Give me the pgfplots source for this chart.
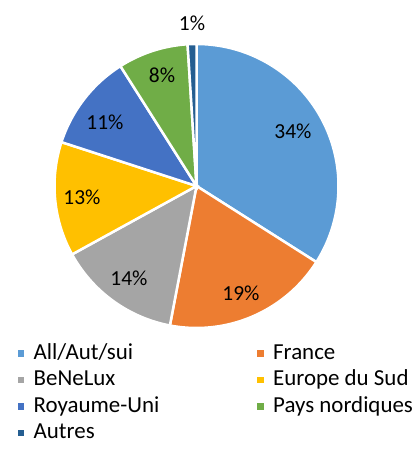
\documentclass[border=0pt]{standalone}
\usepackage{pgfplots}
\pgfplotsset{compat=1.18}
\usepackage{fontspec}
\setmainfont{Carlito}
\definecolor{c1}{HTML}{5B9BD5}
\definecolor{c2}{HTML}{ED7D31}
\definecolor{c3}{HTML}{A5A5A5}
\definecolor{c4}{HTML}{FFC000}
\definecolor{c5}{HTML}{4472C4}
\definecolor{c6}{HTML}{70AD47}
\definecolor{c7}{HTML}{255E91}
% slice: color, cumulative share before, share, legend text
\newcommand{\slice}[4]{%
  \addplot[fill=#1, draw=white, line width=2.5bp, domain={90-3.6*(#2+#3)}:{90-3.6*#2}, samples=80, variable=\t]
    ({196.5+142*cos(\t)},{263+142*sin(\t)}) -- (axis cs:196.5,263) -- cycle;
  \addlegendentry{#4}
}
\newcommand{\lc}[1]{\makebox[214bp][l]{#1}}
\begin{document}
\begin{tikzpicture}
\begin{axis}[
  name=pie,
  scale only axis, width=418bp, height=449bp,
  xmin=0, xmax=418, ymin=0, ymax=449,
  hide axis, clip=false,
  font=\fontsize{21.5}{26}\selectfont,
  legend columns=2,
  legend cell align=left,
  legend image code/.code={\fill[#1] (0bp,-4.5bp) rectangle (9bp,4.5bp);},
  legend style={at={(axis cs:15,106)}, anchor=north west, draw=none, fill=none,
    inner sep=0pt, column sep=7bp, row sep=5.5bp,
    nodes={inner sep=0pt, text height=16bp, text depth=5bp},
    font=\fontsize{23}{26}\selectfont},
]
\slice{c1}{0}{34}{\lc{All/Aut/sui}}
\slice{c2}{34}{19}{France}
\slice{c3}{53}{14}{\lc{BeNeLux}}
\slice{c4}{67}{13}{Europe du Sud}
\slice{c5}{80}{11}{\lc{Royaume-Uni}}
\slice{c6}{91}{8}{Pays nordiques}
\slice{c7}{99}{1}{\lc{Autres}}
\node at (axis cs:293,318) {34\%};
\node at (axis cs:241,156) {19\%};
\node at (axis cs:129,171) {14\%};
\node at (axis cs:82,252) {13\%};
\node at (axis cs:105,327) {11\%};
\node at (axis cs:162,374) {8\%};
\node at (axis cs:192,426) {1\%};
\end{axis}
\pgfresetboundingbox
\path[use as bounding box] (pie.south west) rectangle (pie.north east);
\end{tikzpicture}
\end{document}
